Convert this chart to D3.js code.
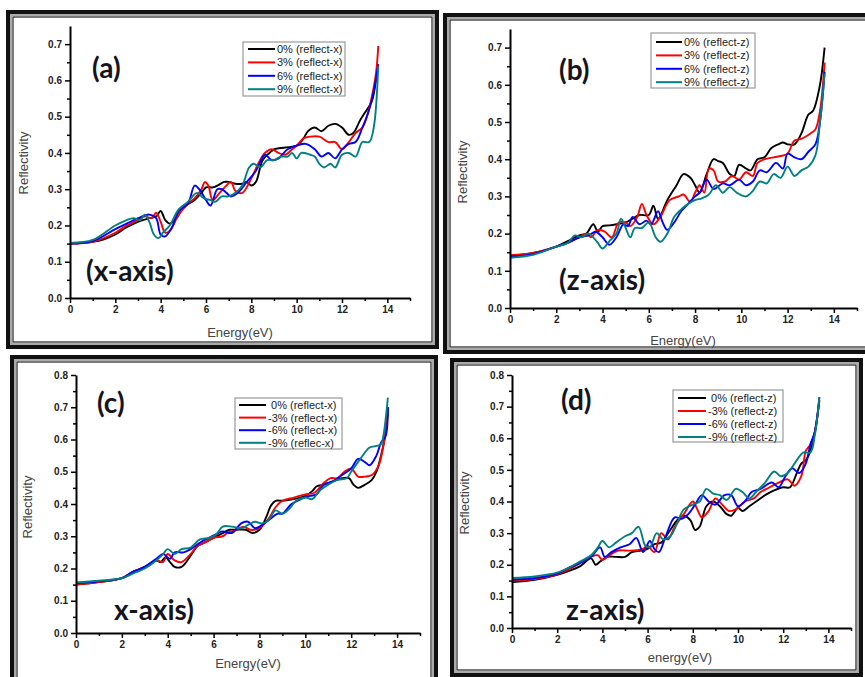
<!DOCTYPE html>
<html>
<head>
<meta charset="utf-8">
<script src="https://cdn.jsdelivr.net/npm/d3@7"></script>
<style>
body { margin: 0; background: #fff; }
svg { display: block; }
.tick text { font-family: Arial, "Liberation Sans", sans-serif; font-weight: bold; font-size: 10px; fill: #222; }
.axisTitle { font-family: Arial, "Liberation Sans", sans-serif; font-size: 13px; fill: #444; }
.legend text { font-family: Arial, "Liberation Sans", sans-serif; font-size: 11px; fill: #222; }
.tag { font-family: Lato, "Open Sans", sans-serif; font-weight: bold; font-size: 28px; fill: #14141e; }
</style>
</head>
<body>
<script>
// energy (eV), reflectivity pairs

// (a) tension, x-axis
var a0 = [[0,.15],[1,.155],[1.5,.162],[2,.175],[2.5,.195],[3,.21],[3.5,.22],[3.8,.225],[4,.24],[4.2,.215],[4.4,.205],[4.7,.22],[5,.25],[5.5,.27],[5.8,.29],[6,.305],[6.3,.305],[6.5,.31],[6.8,.32],[7,.32],[7.3,.315],[7.6,.315],[7.8,.32],[8,.31],[8.2,.32],[8.5,.38],[8.8,.4],[9,.41],[9.5,.415],[10,.42],[10.3,.44],[10.5,.46],[10.8,.47],[11.1,.46],[11.4,.475],[11.7,.48],[12,.47],[12.3,.45],[12.5,.455],[12.8,.49],[13,.51],[13.3,.54],[13.45,.58],[13.55,.63]];
var a3 = [[0,.15],[1,.155],[2,.18],[2.5,.2],[3,.215],[3.3,.225],[3.6,.22],[3.8,.235],[4,.21],[4.2,.18],[4.4,.185],[4.8,.23],[5.2,.26],[5.5,.275],[5.8,.3],[5.95,.32],[6.1,.31],[6.3,.27],[6.6,.29],[6.9,.31],[7.1,.32],[7.3,.295],[7.6,.29],[8,.33],[8.3,.37],[8.6,.4],[8.9,.41],[9.2,.4],[9.5,.395],[9.8,.41],[10,.42],[10.3,.44],[10.6,.445],[11,.445],[11.4,.43],[11.7,.43],[12,.41],[12.3,.43],[12.6,.455],[12.9,.47],[13.1,.5],[13.3,.55],[13.5,.62],[13.6,.695]];
var a6 = [[0,.15],[1,.157],[2,.19],[2.5,.205],[3,.22],[3.5,.23],[3.8,.22],[4,.175],[4.2,.17],[4.5,.195],[4.8,.24],[5.2,.26],[5.5,.31],[5.7,.3],[6,.27],[6.2,.255],[6.5,.3],[6.7,.3],[6.9,.29],[7.1,.28],[7.4,.29],[7.8,.32],[8.2,.35],[8.6,.395],[8.9,.38],[9.2,.385],[9.6,.41],[10,.42],[10.4,.425],[10.8,.41],[11.1,.39],[11.4,.4],[11.7,.385],[12,.41],[12.3,.425],[12.6,.43],[12.9,.47],[13.2,.52],[13.4,.57],[13.6,.645]];
var a9 = [[0,.152],[1,.16],[2,.2],[2.5,.215],[2.8,.22],[3.1,.215],[3.3,.23],[3.5,.21],[3.7,.175],[3.9,.165],[4.1,.18],[4.4,.2],[4.8,.245],[5.2,.265],[5.6,.29],[5.9,.275],[6.2,.27],[6.4,.265],[6.7,.28],[7,.28],[7.3,.29],[7.6,.31],[7.9,.36],[8.1,.37],[8.4,.36],[8.7,.38],[9,.38],[9.3,.39],[9.6,.39],[9.8,.4],[10,.385],[10.2,.4],[10.6,.395],[10.8,.39],[11,.37],[11.2,.36],[11.5,.37],[11.7,.36],[12,.395],[12.3,.4],[12.6,.39],[12.9,.43],[13.2,.43],[13.4,.47],[13.6,.64]];

// (b) tension, z-axis
var b0 = [[0,.14],[1,.148],[2,.165],[2.5,.18],[3,.195],[3.3,.2],[3.6,.225],[3.8,.205],[4,.22],[4.3,.222],[4.6,.225],[5,.23],[5.3,.24],[5.6,.25],[6,.25],[6.2,.275],[6.4,.24],[6.8,.29],[7.2,.33],[7.5,.36],[7.8,.35],[8,.33],[8.2,.31],[8.5,.36],[8.8,.4],[9,.395],[9.2,.39],[9.5,.36],[9.7,.355],[9.9,.385],[10.2,.375],[10.4,.37],[10.7,.4],[11,.405],[11.3,.43],[11.6,.44],[11.8,.445],[12,.44],[12.3,.44],[12.6,.47],[12.9,.52],[13.1,.53],[13.4,.6],[13.6,.7]];
var b3 = [[0,.142],[1,.148],[2,.165],[2.5,.175],[3,.19],[3.3,.2],[3.5,.19],[3.8,.21],[4.1,.205],[4.4,.19],[4.7,.23],[5,.23],[5.2,.22],[5.5,.245],[5.7,.28],[5.9,.25],[6.2,.225],[6.5,.245],[6.9,.29],[7.3,.3],[7.5,.305],[7.8,.285],[8,.31],[8.2,.33],[8.4,.31],[8.6,.375],[8.8,.37],[9,.34],[9.3,.34],[9.6,.355],[9.9,.345],[10.2,.365],[10.5,.355],[10.7,.39],[11,.4],[11.4,.405],[11.8,.41],[12,.415],[12.3,.45],[12.6,.455],[13,.47],[13.2,.48],[13.4,.53],[13.6,.66]];
var b6 = [[0,.138],[1,.145],[2,.165],[2.5,.175],[3,.19],[3.4,.195],[3.7,.205],[4,.19],[4.3,.17],[4.6,.19],[4.9,.225],[5.1,.22],[5.3,.245],[5.6,.225],[5.9,.235],[6.1,.225],[6.4,.26],[6.6,.23],[6.8,.21],[7.1,.23],[7.4,.26],[7.7,.28],[8,.3],[8.2,.31],[8.5,.345],[8.8,.32],[9.2,.335],[9.5,.33],[9.9,.345],[10.2,.33],[10.5,.34],[10.8,.37],[11.1,.365],[11.5,.39],[11.8,.375],[12,.415],[12.3,.405],[12.6,.4],[12.9,.42],[13.2,.44],[13.4,.5],[13.6,.635]];
var b9 = [[0,.135],[1,.143],[2,.165],[2.5,.175],[2.8,.195],[3.1,.19],[3.4,.2],[3.6,.19],[3.8,.175],[4,.16],[4.3,.18],[4.6,.2],[4.8,.24],[5,.215],[5.2,.19],[5.4,.215],[5.7,.215],[6,.23],[6.3,.19],[6.5,.178],[6.8,.2],[7.1,.245],[7.4,.265],[7.7,.28],[8,.29],[8.3,.295],[8.6,.305],[8.9,.33],[9.2,.31],[9.5,.325],[9.8,.31],[10.2,.3],[10.5,.315],[10.8,.34],[11.1,.335],[11.4,.36],[11.7,.35],[12,.38],[12.3,.355],[12.6,.37],[12.9,.38],[13.2,.41],[13.4,.5],[13.6,.63]];

// (c) compression, x-axis
var c0 = [[0,.15],[1,.158],[2,.17],[2.5,.19],[3,.205],[3.5,.225],[3.7,.22],[3.9,.235],[4.1,.22],[4.3,.205],[4.6,.205],[5,.24],[5.3,.27],[5.6,.28],[6,.295],[6.4,.31],[6.7,.32],[7,.32],[7.4,.32],[7.7,.31],[8,.32],[8.3,.36],[8.5,.395],[8.7,.41],[9,.41],[9.5,.415],[10,.425],[10.3,.44],[10.5,.455],[10.8,.46],[11.2,.47],[11.6,.48],[11.9,.48],[12.1,.46],[12.3,.45],[12.6,.46],[12.9,.475],[13.1,.5],[13.3,.55],[13.5,.62],[13.6,.7]];
var c3 = [[0,.15],[1,.158],[2,.17],[2.5,.19],[3,.205],[3.5,.225],[3.8,.22],[4,.245],[4.3,.225],[4.6,.22],[5,.245],[5.3,.27],[5.6,.28],[6,.295],[6.4,.3],[6.6,.31],[7,.32],[7.3,.33],[7.6,.32],[8,.325],[8.4,.355],[8.7,.39],[9,.41],[9.5,.42],[10,.43],[10.4,.435],[10.8,.465],[11.1,.48],[11.4,.48],[11.7,.5],[12,.51],[12.3,.485],[12.6,.485],[12.9,.49],[13.2,.52],[13.4,.58],[13.6,.68]];
var c6 = [[0,.155],[1,.16],[2,.17],[2.5,.19],[3,.205],[3.5,.23],[3.8,.245],[4.1,.23],[4.3,.25],[4.7,.25],[5,.26],[5.4,.28],[5.8,.295],[6.2,.31],[6.4,.315],[6.8,.31],[7.2,.34],[7.5,.345],[7.8,.325],[8,.33],[8.4,.35],[8.8,.37],[9,.37],[9.4,.4],[9.8,.415],[10.2,.425],[10.5,.43],[10.8,.46],[11.2,.47],[11.6,.49],[12,.51],[12.3,.54],[12.6,.53],[12.8,.52],[13.1,.55],[13.3,.59],[13.5,.61],[13.6,.7]];
var c9 = [[0,.157],[1,.162],[2,.17],[2.5,.185],[3,.2],[3.5,.225],[3.8,.245],[4,.26],[4.3,.245],[4.6,.26],[5,.265],[5.4,.29],[5.8,.295],[6.1,.305],[6.4,.33],[6.8,.33],[7.2,.325],[7.5,.335],[7.8,.345],[8.1,.34],[8.4,.35],[8.7,.38],[9,.37],[9.3,.385],[9.6,.41],[10,.42],[10.3,.415],[10.6,.44],[11,.46],[11.4,.475],[11.8,.48],[12,.5],[12.4,.54],[12.8,.575],[13.1,.58],[13.3,.585],[13.4,.61],[13.6,.73]];

// (d) compression, z-axis
var d0 = [[0,.145],[1,.152],[2,.168],[2.5,.18],[3,.195],[3.5,.22],[3.7,.2],[3.9,.21],[4.2,.225],[4.6,.225],[5,.225],[5.3,.24],[5.7,.245],[6,.25],[6.3,.265],[6.6,.27],[7,.31],[7.3,.34],[7.6,.355],[7.9,.34],[8.1,.31],[8.3,.32],[8.6,.385],[8.9,.4],[9.2,.385],[9.5,.36],[9.7,.355],[10,.38],[10.2,.37],[10.5,.385],[10.8,.4],[11.2,.42],[11.6,.435],[12,.445],[12.3,.445],[12.6,.49],[12.8,.52],[13,.53],[13.2,.56],[13.4,.62],[13.6,.72]];
var d3_ = [[0,.15],[1,.155],[2,.17],[2.5,.185],[3,.205],[3.5,.225],[3.8,.23],[4,.215],[4.3,.23],[4.7,.245],[5,.245],[5.4,.245],[5.8,.25],[6,.26],[6.3,.24],[6.6,.3],[6.9,.28],[7.2,.32],[7.6,.36],[8,.4],[8.2,.375],[8.4,.35],[8.7,.37],[9,.41],[9.3,.39],[9.6,.37],[9.9,.375],[10.3,.4],[10.7,.41],[11,.43],[11.4,.445],[11.8,.46],[12.2,.47],[12.5,.45],[12.8,.48],[13,.56],[13.2,.58],[13.4,.62],[13.6,.72]];
var d6 = [[0,.153],[1,.158],[2,.172],[2.5,.19],[3,.205],[3.5,.225],[3.9,.255],[4.1,.225],[4.4,.24],[4.8,.255],[5.2,.265],[5.5,.285],[5.8,.24],[6.1,.275],[6.3,.25],[6.5,.24],[6.8,.29],[7.2,.35],[7.5,.345],[7.8,.36],[8.1,.39],[8.4,.42],[8.7,.4],[9,.39],[9.4,.42],[9.7,.42],[10,.385],[10.3,.4],[10.6,.43],[11,.44],[11.5,.46],[11.8,.445],[12.1,.48],[12.4,.505],[12.7,.49],[13,.52],[13.2,.58],[13.4,.62],[13.6,.73]];
var d9 = [[0,.158],[1,.163],[2,.175],[2.5,.19],[3,.21],[3.5,.23],[3.8,.255],[4,.275],[4.3,.255],[4.6,.27],[5,.29],[5.3,.3],[5.6,.32],[5.9,.26],[6.1,.255],[6.4,.3],[6.7,.28],[7,.29],[7.3,.33],[7.6,.375],[8,.39],[8.3,.4],[8.6,.44],[8.9,.425],[9.2,.42],[9.5,.405],[9.9,.44],[10.2,.43],[10.5,.41],[10.8,.43],[11.2,.46],[11.6,.495],[11.9,.48],[12.2,.49],[12.5,.52],[12.9,.555],[13.2,.555],[13.4,.61],[13.6,.73]];

var legendA = ["0% (reflect-x)", "3% (reflect-x)", "6% (reflect-x)", "9% (reflect-x)"];
var legendB = ["0% (reflect-z)", "3% (reflect-z)", "6% (reflect-z)", "9% (reflect-z)"];
var legendC = [" 0% (reflect-x)", "-3% (reflect-x)", "-6% (reflect-x)", "-9% (reflec-x)"];
var legendD = [" 0% (reflect-z)", "-3% (reflect-z)", "-6% (reflect-z)", "-9% (reflect-z)"];

var xTicks = [0, 2, 4, 6, 8, 10, 12, 14];
var yTicks75 = [0, .1, .2, .3, .4, .5, .6, .7];
var yTicks80 = [0, .1, .2, .3, .4, .5, .6, .7, .8];

var colors = ["#000000", "#ff0000", "#0000ff", "#008080"];

var panels = [
	{ series: [a0, a3, a6, a9], legend: legendA, yTicks: yTicks75, yMax: .75,
	  plot: { left: 70, right: 410, bottom: 298, top: 26 },
	  frame: { x: 6, y: 10, w: 433, h: 339 },
	  leg: { x: 243, y: 42, w: 102, h: 54, lx: 248, tx: 277, ty0: 49, dy: 13.4 },
	  tag: { text: "(a)", x: 92, y: 78 }, tag2: { text: "(x-axis)", x: 86, y: 281 },
	  xTitle: "Energy(eV)", xt: { x: 240, y: 337 }, yt: { x: 28, y: 163 } },
	{ series: [b0, b3, b6, b9], legend: legendB, yTicks: yTicks75, yMax: .75,
	  plot: { left: 510, right: 857, bottom: 308, top: 29 },
	  frame: { x: 443, y: 13, w: 440, h: 341 },
	  leg: { x: 651, y: 33, w: 104, h: 55, lx: 656, tx: 684, ty0: 42, dy: 13.4 },
	  tag: { text: "(b)", x: 559, y: 80 }, tag2: { text: "(z-axis)", x: 559, y: 290 },
	  xTitle: "Energy(eV)", xt: { x: 683, y: 345 }, yt: { x: 467, y: 172 } },
	{ series: [c0, c3, c6, c9], legend: legendC, yTicks: yTicks80, yMax: .8,
	  plot: { left: 76, right: 420, bottom: 633, top: 375 },
	  frame: { x: 10, y: 355, w: 428, h: 340 },
	  leg: { x: 235, y: 398, w: 107, h: 51, lx: 239, tx: 268, ty0: 405, dy: 12.6 },
	  tag: { text: "(c)", x: 97, y: 413 }, tag2: { text: "x-axis)", x: 114, y: 620 },
	  xTitle: "Energy(eV)", xt: { x: 248, y: 668 }, yt: { x: 32, y: 507 } },
	{ series: [d0, d3_, d6, d9], legend: legendD, yTicks: yTicks80, yMax: .8,
	  plot: { left: 512, right: 851, bottom: 628, top: 375 },
	  frame: { x: 450, y: 358, w: 413, h: 319 },
	  leg: { x: 673, y: 390, w: 110, h: 52, lx: 678, tx: 708, ty0: 398, dy: 13 },
	  tag: { text: "(d)", x: 561, y: 410 }, tag2: { text: "z-axis)", x: 566, y: 620 },
	  xTitle: "energy(eV)", xt: { x: 680, y: 662 }, yt: { x: 469, y: 503 } }
];

var svg = d3.select("body").append("svg")
	.attr("width", 865)
	.attr("height", 677);

svg.append("rect").attr("width", 865).attr("height", 677).attr("fill", "#fff");

function range(a, b, step) {
	var out = [];
	for (var v = a; v <= b + 1e-9; v += step) out.push(+v.toFixed(3));
	return out;
}

function drawPanel(p) {
	var g = svg.append("g");
	var f = p.frame;

	// double border
	g.append("rect").attr("x", f.x + 2).attr("y", f.y + 2).attr("width", f.w - 4).attr("height", f.h - 4)
		.attr("fill", "#fff").attr("stroke", "#111").attr("stroke-width", 4);
	g.append("rect").attr("x", f.x + 5).attr("y", f.y + 5).attr("width", f.w - 10).attr("height", f.h - 10)
		.attr("fill", "none").attr("stroke", "#aaa").attr("stroke-width", 2);
	g.append("rect").attr("x", f.x + 7).attr("y", f.y + 7).attr("width", f.w - 14).attr("height", f.h - 14)
		.attr("fill", "#fff").attr("stroke", "#222").attr("stroke-width", 1.2);

	var x = d3.scaleLinear().domain([0, 15]).range([p.plot.left, p.plot.right]);
	var y = d3.scaleLinear().domain([0, p.yMax]).range([p.plot.bottom, p.plot.top]);

	var line = d3.line()
		.x(function(d) { return x(d[0]); })
		.y(function(d) { return y(d[1]); })
		.curve(d3.curveCatmullRom.alpha(0.5));

	p.series.forEach(function(s, i) {
		g.append("path").datum(s)
			.attr("d", line)
			.attr("fill", "none")
			.attr("stroke", colors[i])
			.attr("stroke-width", 1.9);
	});

	// x axis, minor then major
	g.append("g").attr("transform", "translate(0," + p.plot.bottom + ")")
		.call(d3.axisBottom(x).tickValues(range(1, 15, 2)).tickSize(3).tickFormat(""))
		.call(function(a) { a.select(".domain").remove(); });
	var xa = g.append("g").attr("transform", "translate(0," + p.plot.bottom + ")")
		.call(d3.axisBottom(x).tickValues(xTicks).tickSize(5).tickSizeOuter(0).tickFormat(d3.format("d")));
	xa.select(".domain").attr("stroke-width", 2);

	// y axis
	g.append("g").attr("transform", "translate(" + p.plot.left + ",0)")
		.call(d3.axisLeft(y).tickValues(range(0.05, p.yMax - 0.01, 0.1)).tickSize(3).tickFormat(""))
		.call(function(a) { a.select(".domain").remove(); });
	var ya = g.append("g").attr("transform", "translate(" + p.plot.left + ",0)")
		.call(d3.axisLeft(y).tickValues(p.yTicks).tickSize(5).tickSizeOuter(0).tickFormat(d3.format(".1f")));
	ya.select(".domain").attr("stroke-width", 2);

	g.selectAll(".tick line").attr("stroke-width", 1.5);

	// titles
	g.append("text").attr("class", "axisTitle")
		.attr("x", p.xt.x).attr("y", p.xt.y)
		.attr("text-anchor", "middle")
		.text(p.xTitle);
	g.append("text").attr("class", "axisTitle")
		.attr("transform", "translate(" + p.yt.x + "," + p.yt.y + ") rotate(-90)")
		.attr("text-anchor", "middle")
		.text("Reflectivity");

	g.append("text").attr("class", "tag").attr("x", p.tag.x).attr("y", p.tag.y).text(p.tag.text);
	g.append("text").attr("class", "tag").attr("x", p.tag2.x).attr("y", p.tag2.y).text(p.tag2.text);

	// legend
	var L = p.leg;
	var lg = g.append("g").attr("class", "legend");
	lg.append("rect").attr("x", L.x).attr("y", L.y).attr("width", L.w).attr("height", L.h)
		.attr("fill", "#fff").attr("stroke", "#999").attr("stroke-width", 1.2);
	p.legend.forEach(function(t, i) {
		var yy = L.ty0 + i * L.dy;
		lg.append("line").attr("x1", L.lx).attr("x2", L.tx - 2).attr("y1", yy).attr("y2", yy)
			.attr("stroke", colors[i]).attr("stroke-width", 2);
		lg.append("text").attr("x", L.tx).attr("y", yy + 4).attr("xml:space", "preserve").text(t);
	});
}

panels.forEach(drawPanel);
</script>
</body>
</html>
